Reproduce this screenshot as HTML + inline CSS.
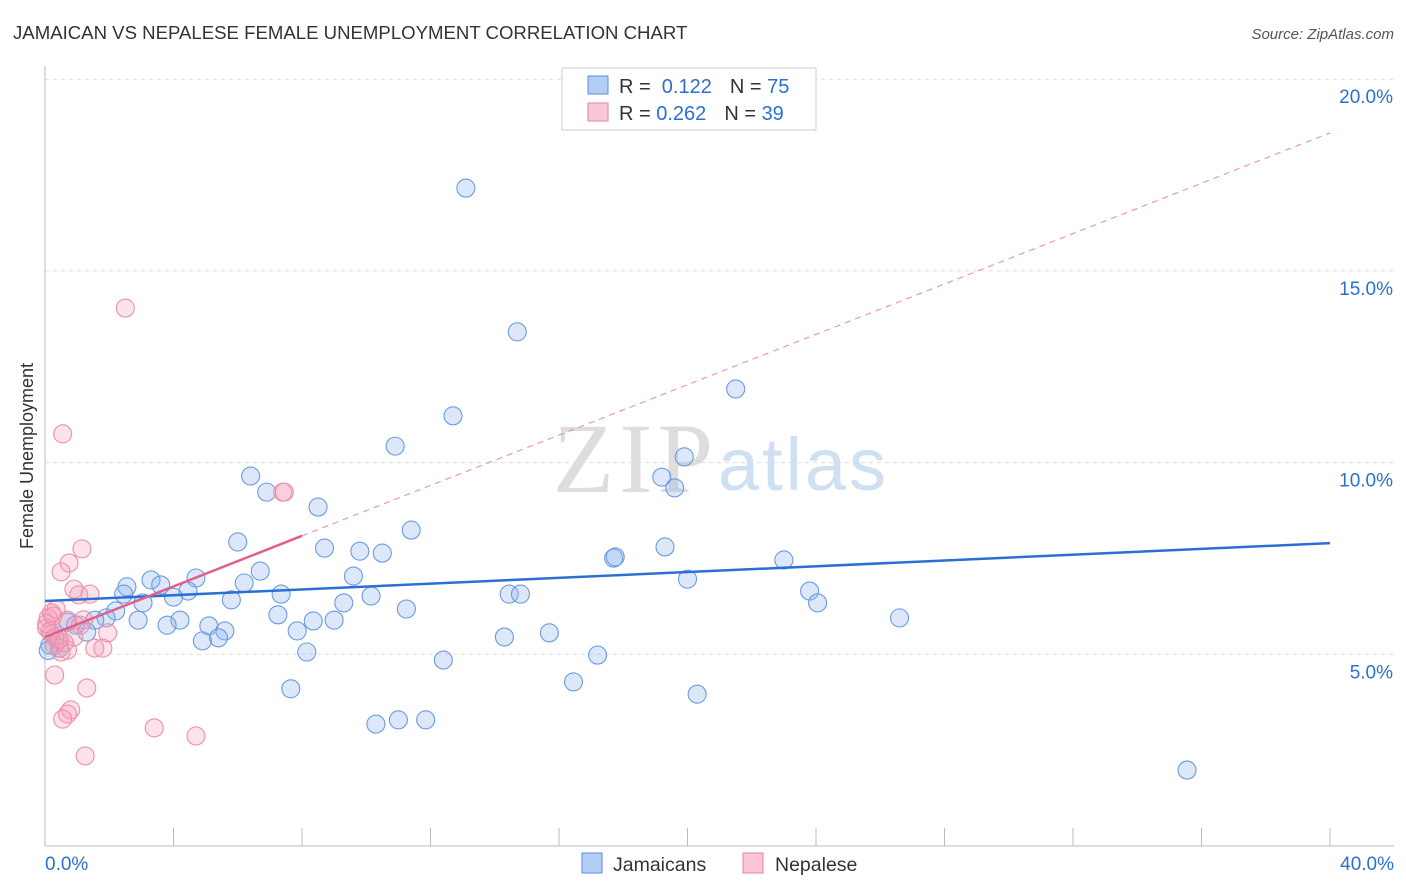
<!DOCTYPE html>
<html><head><meta charset="utf-8"><style>
body{margin:0;background:#fff;font-family:"Liberation Sans",sans-serif;}
svg{display:block}
</style></head><body>
<svg id="chart" width="1406" height="892">
<text x="13" y="39" font-size="18.6" fill="#333">JAMAICAN VS NEPALESE FEMALE UNEMPLOYMENT CORRELATION CHART</text>
<text x="1394" y="39" font-size="15" fill="#555" text-anchor="end" font-style="italic">Source: ZipAtlas.com</text>
<text x="33" y="456" font-size="18" fill="#333" text-anchor="middle" transform="rotate(-90 33 456)">Female Unemployment</text>
<g><text x="553" y="492" font-size="100" fill="#ddd" font-family="Liberation Serif,serif" textLength="160">ZIP</text><text x="718" y="490" font-size="74" fill="#cfe0f3" textLength="168">atlas</text></g>
<g id="grid"></g><g id="axes"></g><g id="lines"></g><g id="pts"></g>
<g>
<rect x="562" y="68" width="254" height="62" fill="#fff" stroke="#ccc"/>
<rect x="588" y="76" width="20" height="18" fill="#b3cef5" stroke="#5b8fd8"/>
<rect x="588" y="103" width="20" height="18" fill="#fbc6d5" stroke="#e6839f"/>
<text x="619" y="93" font-size="20" fill="#333">R = <tspan fill="#2c6fd4">&#160;0.122</tspan><tspan dx="18">N = </tspan><tspan fill="#2c6fd4">75</tspan></text>
<text x="619" y="120" font-size="20" fill="#333">R = <tspan fill="#2c6fd4">0.262</tspan><tspan dx="18">N = </tspan><tspan fill="#2c6fd4">39</tspan></text>
</g>
<g>
<rect x="582" y="853" width="20" height="20" fill="#b3cef5" stroke="#5b8fd8"/>
<text x="613" y="871" font-size="19.5" fill="#333">Jamaicans</text>
<rect x="743" y="853" width="20" height="20" fill="#fbc6d5" stroke="#e6839f"/>
<text x="775" y="871" font-size="19.5" fill="#333">Nepalese</text>
</g>
</svg>
<script>
const xTicks=[0,40];
const yTicks=[5,10,15,20];
const blueX=[13.1,14.7,21.5,12.7,10.9,19.9,19.2,19.6,6.4,6.9,8.5,11.4,6.0,8.7,9.8,10.5,17.7,17.75,19.3,23.0,6.7,9.6,4.7,3.3,2.55,3.6,6.2,20.0,2.45,4.45,4.0,3.05,5.8,7.35,9.3,10.15,14.45,14.8,23.8,24.05,11.25,7.25,2.2,1.9,1.55,2.9,4.2,3.8,5.1,5.6,8.35,9.0,7.85,26.6,15.7,14.3,1.3,5.4,4.9,0.7,0.95,0.3,0.15,0.45,8.15,17.2,12.4,16.45,7.65,20.3,10.3,11.0,11.85,35.55,0.1];
const blueY=[17.16,13.41,11.92,11.22,10.43,10.15,9.62,9.34,9.65,9.23,8.84,8.24,7.93,7.77,7.69,7.64,7.51,7.54,7.80,7.46,7.17,7.04,6.99,6.94,6.76,6.81,6.86,6.96,6.57,6.65,6.49,6.34,6.42,6.57,6.34,6.52,6.57,6.57,6.65,6.34,6.18,6.03,6.13,5.95,5.89,5.89,5.89,5.76,5.74,5.61,5.87,5.89,5.61,5.95,5.56,5.45,5.58,5.43,5.35,5.84,5.76,5.45,5.24,5.16,5.06,4.98,4.85,4.28,4.10,3.96,3.18,3.29,3.29,1.98,5.1];
const pinkX=[2.5,0.55,7.4,7.45,1.15,0.75,0.5,0.9,1.4,1.05,0.35,0.2,0.1,0.7,1.1,1.95,0.05,0.2,0.4,0.7,1.55,1.8,0.3,1.3,0.8,0.7,0.55,3.4,4.7,1.25,0.3,0.5,0.9,0.15,0.6,1.2,0.25,0.45,0.05];
const pinkY=[14.03,10.75,9.23,9.23,7.75,7.38,7.15,6.70,6.57,6.55,6.18,6.08,5.95,5.89,5.76,5.56,5.69,5.53,5.37,5.11,5.16,5.16,4.46,4.12,3.55,3.44,3.31,3.08,2.87,2.35,5.24,5.06,5.45,5.6,5.3,5.9,6.0,5.4,5.8];
const blueTrend=[6.39,7.90];
const pinkTrend=[5.45,8.09,18.6];
const X0=45,X1=1330,Y0=846,PY=38.34;
const sx=v=>X0+(X1-X0)*v/40, sy=v=>Y0-v*PY;
const NS="http://www.w3.org/2000/svg";
function mk(tag,attrs,parent){const e=document.createElementNS(NS,tag);for(const k in attrs)e.setAttribute(k,attrs[k]);document.getElementById(parent).appendChild(e);return e;}
mk('line',{x1:X0,y1:66,x2:X0,y2:846,stroke:'#bbb'},'axes');
mk('line',{x1:X0,y1:846,x2:1394,y2:846,stroke:'#bbb'},'axes');
for(let i=0;i<=10;i++){const l=mk('line',{x1:X0+i*128.5,y1:828,x2:X0+i*128.5,y2:846,stroke:'#bbb'},'axes');

}
yTicks.forEach(t=>{const g=mk('line',{x1:X0,x2:1394,y1:sy(t),y2:sy(t),stroke:'#ddd','stroke-dasharray':'4,4'},'grid');


const tx=mk('text',{x:1393,y:sy(t)+24,'font-size':19,fill:'#2c6fd4','text-anchor':'end'},'axes');tx.textContent=t.toFixed(1)+'%';

});
xTicks.forEach(t=>{const tx=mk('text',{x:t==0?45:1394,y:870,'font-size':19,fill:'#2c6fd4','text-anchor':t==0?'start':'end'},'axes');tx.textContent=t.toFixed(1)+'%';

});
let d=mk('line',{x1:sx(8),y1:sy(pinkTrend[1]),x2:sx(40),y2:sy(pinkTrend[2]),stroke:'#e8869f','stroke-dasharray':'6,5','stroke-width':1},'lines');


blueX.forEach((v,i)=>{const c=mk('circle',{cx:sx(v),cy:sy(blueY[i]),r:9,fill:'rgba(140,180,240,0.3)',stroke:'#6a9be0','stroke-width':1.1},'pts');

});
pinkX.forEach((v,i)=>{const c=mk('circle',{cx:sx(v),cy:sy(pinkY[i]),r:9,fill:'rgba(245,160,185,0.3)',stroke:'#ec90a8','stroke-width':1.1},'pts');

});
let b=mk('line',{x1:sx(0),y1:sy(blueTrend[0]),x2:sx(40),y2:sy(blueTrend[1]),stroke:'#2c6fd4','stroke-width':2.5},'pts');


let p=mk('line',{x1:sx(0),y1:sy(pinkTrend[0]),x2:sx(8),y2:sy(pinkTrend[1]),stroke:'#e0608a','stroke-width':2.5},'pts');


</script>
</body></html>
